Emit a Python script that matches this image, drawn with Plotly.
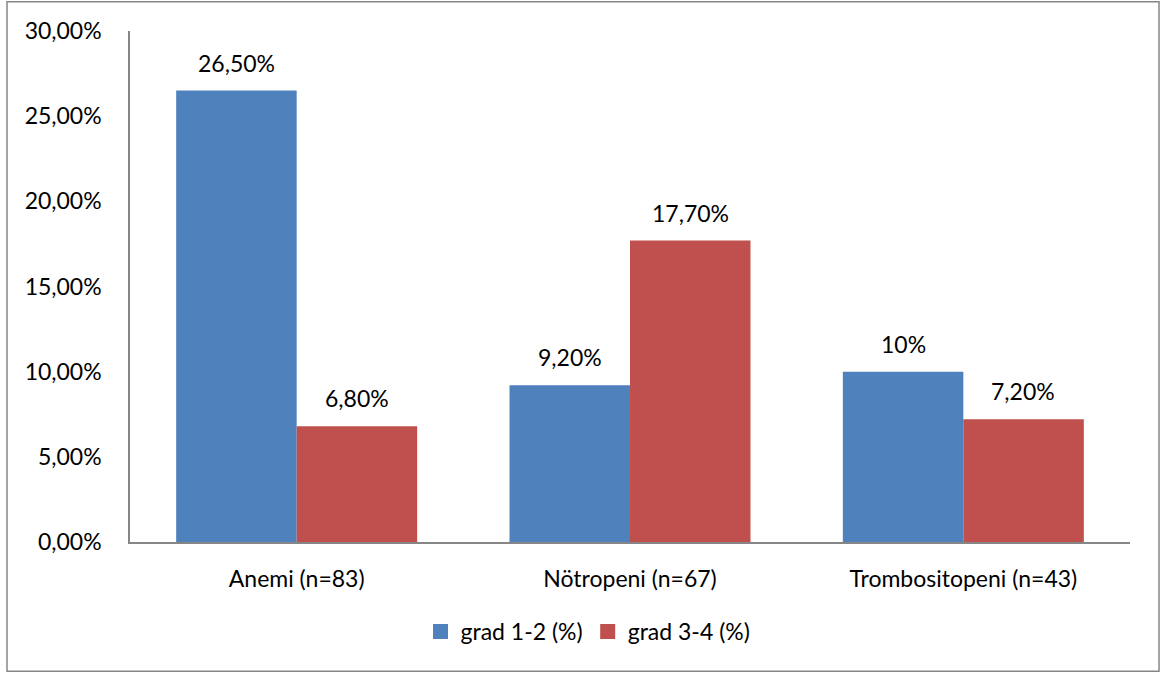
import plotly.graph_objects as go

categories = ["Anemi (n=83)", "Nötropeni (n=67)", "Trombositopeni (n=43)"]
grad12 = [0.265, 0.092, 0.10]
grad34 = [0.068, 0.177, 0.072]
grad12_labels = ["26,50%", "9,20%", "10%"]
grad34_labels = ["6,80%", "17,70%", "7,20%"]
series_names = ["grad 1-2 (%)", "grad 3-4 (%)"]
tick_vals = [0, 0.05, 0.10, 0.15, 0.20, 0.25, 0.30]
tick_text = ["0,00%", "5,00%", "10,00%", "15,00%", "20,00%", "25,00%", "30,00%"]

FONT = "Lato"
FS = 23
BLUE = "#4F81BD"
RED = "#C0504D"

fig = go.Figure()
fig.add_trace(go.Bar(x=categories, y=grad12, name=series_names[0], showlegend=False,
                     marker=dict(color=BLUE, line=dict(width=0))))
fig.add_trace(go.Bar(x=categories, y=grad34, name=series_names[1], showlegend=False,
                     marker=dict(color=RED, line=dict(width=0))))
# legend-only entries with larger square swatches
for nm, col in zip(series_names, [BLUE, RED]):
    fig.add_trace(go.Scatter(x=[None], y=[None], mode="markers", name=nm,
                             marker=dict(symbol="square", size=15, color=col)))

annotations = []
for c, v, t in zip(categories, grad12, grad12_labels):
    annotations.append(dict(x=c, y=v, text=t, showarrow=False, xshift=-60,
                            yanchor="bottom", yshift=12,
                            font=dict(family=FONT, size=FS, color="black")))
for c, v, t in zip(categories, grad34, grad34_labels):
    annotations.append(dict(x=c, y=v, text=t, showarrow=False, xshift=60,
                            yanchor="bottom", yshift=12,
                            font=dict(family=FONT, size=FS, color="black")))

fig.update_layout(
    width=1161, height=675,
    margin=dict(l=130, r=31, t=31, b=133),
    paper_bgcolor="white", plot_bgcolor="white",
    font=dict(family=FONT, size=FS, color="black"),
    barmode="group", bargap=0.277, bargroupgap=0,
    showlegend=True,
    legend=dict(orientation="h", x=0.458, xanchor="center", y=-0.175, yanchor="middle",
                font=dict(family=FONT, size=FS, color="black"),
                itemwidth=30, tracegroupgap=0),
    annotations=annotations,
    xaxis=dict(showline=True, linecolor="#868686", linewidth=1.5, ticks="",
               showgrid=False, ticklabelstandoff=16, tickfont=dict(family=FONT, size=FS)),
    yaxis=dict(range=[0, 0.30], tickvals=tick_vals, ticktext=tick_text,
               showline=True, linecolor="#868686", linewidth=1.5, ticks="",
               showgrid=False, zeroline=False, ticklabelstandoff=22,
               tickfont=dict(family=FONT, size=FS)),
    shapes=[dict(type="rect", xref="paper", yref="paper",
                 x0=-0.123, x1=1.029, y0=-0.253, y1=1.057,
                 line=dict(color="#868686", width=1.5), fillcolor="rgba(0,0,0,0)")],
)

fig.write_html("out.html")
